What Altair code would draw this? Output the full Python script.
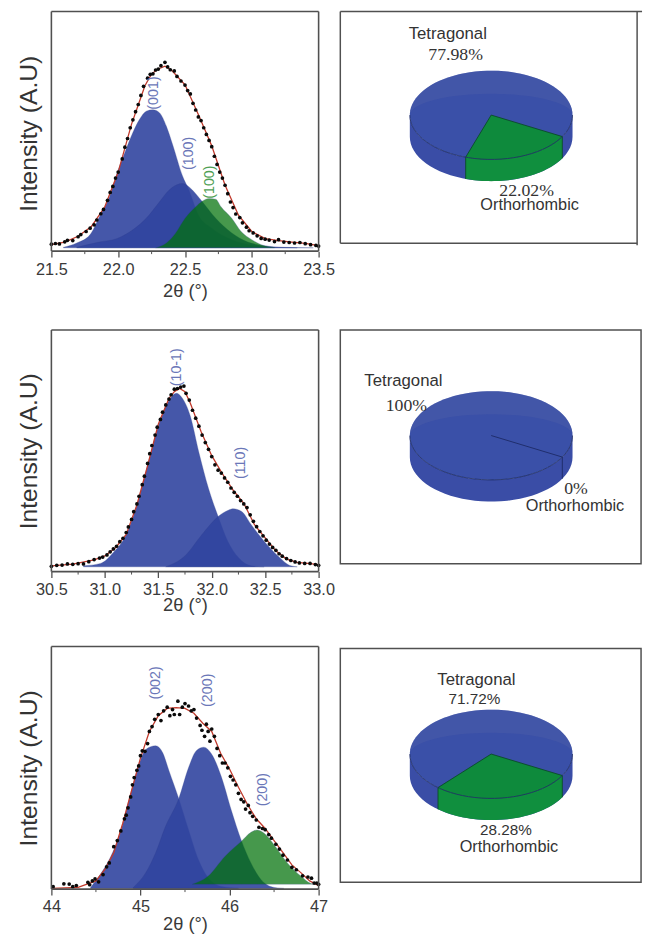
import altair as alt
import numpy as np
import pandas as pd

P1_TICKS = [21.5, 22.0, 22.5, 23.0, 23.5]
P1_MINOR = [21.75, 22.25, 22.75, 23.25]
P1_FIT_X = [21.5,21.6,21.7,21.8,21.9,22.0,22.1,22.15,22.2,22.25,22.3,22.35,22.4,22.5,22.6,22.7,22.8,22.9,23.0,23.1,23.2,23.3,23.4,23.5]
P1_FIT_V = [2.7,3.8,6.2,10.3,18.5,33,53,61,69,74,76,77.2,75.5,69.4,57,44,27.5,15,8.2,5.2,4.4,3.8,3.2,2.3]
P1_DOT_X = [21.50,21.53,21.56,21.60,21.62,21.66,21.70,21.72,21.76,21.79,21.82,21.84,21.87,21.89,21.92,21.94,21.96,21.98,22.00,22.03,22.05,22.07,22.09,22.11,22.13,22.15,22.17,22.19,22.22,22.24,22.26,22.28,22.30,22.32,22.35,22.37,22.39,22.42,22.44,22.47,22.50,22.52,22.54,22.56,22.58,22.60,22.62,22.64,22.66,22.68,22.70,22.72,22.74,22.76,22.78,22.80,22.82,22.84,22.86,22.88,22.91,22.93,22.96,22.98,23.01,23.04,23.07,23.10,23.13,23.17,23.20,23.24,23.28,23.32,23.36,23.40,23.44,23.48,23.50]
P1_DOT_V = [2.9,3.2,3.0,3.9,4.5,4.4,6.0,6.9,8.2,9.6,11.0,13.0,15.6,17.4,21.2,24.5,27.0,30.5,33.0,38.5,43.4,47.0,51.5,54.8,58.2,61.2,65.0,68.8,72.2,73.8,74.0,75.6,76.0,77.4,78.8,76.9,75.7,75.2,72.9,71.0,69.3,67.0,65.6,61.7,58.9,56.0,54.5,51.5,48.7,46.2,43.6,39.6,36.2,33.0,30.5,27.5,24.0,20.5,18.2,15.5,14.0,11.8,10.0,8.5,7.6,6.4,5.3,5.0,4.6,4.0,4.8,3.8,3.6,3.4,3.6,3.1,2.7,2.4,2.1]
P1_A_X = [21.59,21.69,21.79,21.86,21.94,21.99,22.05,22.11,22.16,22.21,22.26,22.31,22.36,22.41,22.48,22.53,22.60,22.70,22.85,23.0,23.17,23.34]
P1_A_V = [1.6,3.4,6.9,14.4,23.4,32.3,41.2,49.5,55,58.4,59,57.7,52.2,44,31.6,25.4,15.1,9.6,4.8,2.5,1.6,1.4]
P1_B_X = [21.69,21.86,21.99,22.11,22.21,22.31,22.38,22.44,22.48,22.53,22.58,22.63,22.73,22.85,22.97,23.09,23.24,23.46]
P1_B_V = [1.6,3.8,5.2,8.9,13.7,20.6,25.4,27.7,28.2,26.8,24,20.6,13.7,7.6,3.8,2.3,1.6,1.4]
P1_G_X = [22.28,22.36,22.43,22.50,22.58,22.63,22.68,22.73,22.77,22.85,22.92,23.0,23.07,23.17]
P1_G_V = [1.4,3.4,7.6,13.7,18.5,20.9,22,21.7,18.5,13.7,8.2,4.8,2.7,1.6]

P2_TICKS = [30.5, 31.0, 31.5, 32.0, 32.5, 33.0]
P2_MINOR = [30.75, 31.25, 31.75, 32.25, 32.75]
P2_FIT_X = [30.5,30.7,30.9,31.0,31.1,31.2,31.3,31.4,31.5,31.6,31.65,31.7,31.75,31.8,31.9,32.0,32.1,32.2,32.3,32.4,32.5,32.6,32.7,32.8,32.9,33.0]
P2_FIT_V = [2.4,3.1,4.9,6.5,9.9,15.4,27.6,43.9,61,71.7,74.5,75.8,74.5,69.7,58,48,40.5,33.7,28.3,19.4,14,8.6,5.2,3.8,3.4,2.9]
P2_DOT_X = [30.50,30.55,30.60,30.65,30.70,30.75,30.80,30.85,30.90,30.95,30.98,31.02,31.05,31.08,31.11,31.14,31.17,31.20,31.22,31.25,31.27,31.30,31.32,31.35,31.37,31.40,31.42,31.44,31.47,31.49,31.52,31.54,31.57,31.60,31.62,31.65,31.68,31.71,31.74,31.76,31.79,31.82,31.85,31.88,31.91,31.94,31.97,32.00,32.03,32.06,32.09,32.12,32.15,32.18,32.21,32.24,32.27,32.30,32.33,32.36,32.39,32.42,32.45,32.48,32.51,32.54,32.57,32.60,32.63,32.66,32.70,32.74,32.78,32.82,32.87,32.92,32.97,33.00]
P2_DOT_V = [2.2,2.6,2.7,3.2,3.0,3.3,3.2,4.1,5.0,5.6,6.0,6.9,8.2,9.4,10.5,12.4,13.8,16.2,18.5,21.6,24.8,28.0,31.2,36.0,39.5,44.8,48.8,52.2,56.5,59.8,63.0,66.0,69.0,71.4,73.2,75.5,75.8,76.4,76.8,73.8,71.0,66.8,63.5,60.2,56.5,53.4,50.6,47.6,44.2,42.0,40.8,38.8,37.0,34.6,32.8,31.2,29.4,28.0,26.5,23.5,20.8,18.6,16.6,14.8,13.0,11.4,10.0,8.8,7.4,6.4,5.4,4.6,4.0,3.6,3.4,3.4,2.9,2.6]
P2_A_X = [30.80,30.96,31.08,31.20,31.30,31.40,31.50,31.57,31.63,31.67,31.72,31.80,31.88,31.97,32.06,32.15,32.25,32.37,32.49]
P2_A_V = [2.4,3.4,7.9,15.4,27.6,43.9,60.2,68.3,72.7,73.8,72.1,64.3,49.3,34.4,22.8,12.6,5.8,2.4,2]
P2_B_X = [31.57,31.75,31.91,32.06,32.16,32.20,32.28,32.37,32.49,32.62,32.74,32.80]
P2_B_V = [2,6.5,15.4,22.8,25.5,26,24.9,19.4,12.6,6.5,2.4,2]

P3_TICKS = [44, 45, 46, 47]
P3_MINOR = [44.5, 45.5, 46.5]
P3_FIT_X = [44.0,44.3,44.5,44.6,44.7,44.8,44.9,45.0,45.1,45.2,45.3,45.4,45.5,45.6,45.7,45.8,45.9,46.0,46.1,46.2,46.3,46.4,46.5,46.6,46.7,46.8,46.9,47.0]
P3_FIT_V = [0.3,0.7,3.4,8.1,15,27,40.6,54,65,71.5,74.5,74.8,74.5,72.5,68.4,65,56,49.5,42,35,29,25,20,15,10,6.8,3.4,1.4]
P3_DOT_X = [44.02,44.14,44.20,44.24,44.28,44.41,44.43,44.46,44.49,44.53,44.58,44.62,44.65,44.70,44.74,44.78,44.82,44.84,44.86,44.89,44.91,44.93,44.96,44.98,45.00,45.02,45.05,45.08,45.10,45.13,45.16,45.20,45.23,45.26,45.30,45.33,45.36,45.38,45.42,45.44,45.47,45.50,45.54,45.57,45.60,45.63,45.67,45.69,45.72,45.74,45.76,45.78,45.80,45.83,45.86,45.89,45.92,45.95,45.98,46.01,46.04,46.07,46.10,46.13,46.16,46.18,46.21,46.23,46.26,46.30,46.33,46.37,46.40,46.44,46.47,46.52,46.56,46.60,46.65,46.70,46.75,46.82,46.88,46.92,46.95,46.98,47.0]
P3_DOT_V = [1.0,2.2,2.1,1.0,1.5,2.8,1.8,3.4,4.2,3.0,6.0,9.2,10.8,17.5,20,24,29,30.5,33.5,38,43,46,49,50.8,55,57,56.8,60,65,67,70,72,69.5,73.5,75,71.5,74,72,77.5,72,75,76.5,75.5,73.5,74,70.5,67.5,65.5,63,68,65,61,66,63,58,55,52,52,50,46.5,45,43,39.5,37,36,33,34.5,31.5,30,28.5,25.5,25,24.5,22.5,21,18.5,16.5,14,12,9,8,5.5,5,4.5,2.5,2.5,2]
P3_A_X = [44.44,44.55,44.66,44.77,44.88,44.99,45.06,45.17,45.25,45.32,45.43,45.54,45.65,45.76,45.91,46.1]
P3_A_V = [0.7,6.1,12.9,23,37.9,52.2,57.6,59.1,56.2,48.8,37.3,24.4,12.2,4.7,1.1,0.4]
P3_B_X = [44.92,45.06,45.17,45.28,45.43,45.54,45.63,45.71,45.80,45.91,46.02,46.13,46.24,46.35,46.50,46.61]
P3_B_V = [0.7,6.8,14.9,25.7,37.3,50.1,57.2,58.5,55.6,46.1,32.5,20.3,10.8,4.1,0.7,0.3]
P3_G_X = [45.58,45.76,45.95,46.13,46.24,46.31,46.39,46.5,46.65,46.8,46.91,46.94]
P3_G_V = [2,5.4,13.6,19.6,23.4,24.4,23,18.3,10.8,5.4,2.4,2]

P1_LABELS = ["(001)", "(100)", "(100)"]
P1_LABEL_X = [22.27, 22.53, 22.69]
P1_LABEL_V = [66, 40.8, 28.8]
P2_LABELS = ["(10-1)", "(110)"]
P2_LABEL_X = [31.68, 32.27]
P2_LABEL_V = [84.6, 45]
P3_LABELS = ["(002)", "(200)", "(200)"]
P3_LABEL_X = [45.17, 45.76, 46.38]
P3_LABEL_V = [85, 82, 41]

ORTHO_PCT = [22.02, 0.0, 28.28]
TETRA_PCT = [77.98, 100.0, 71.72]

SANS = "Liberation Sans"
SERIF = "Liberation Serif"
BLUE = "#3145A0"
GREEN = "#007108"
LAB_BLUE = "#6B77B8"
LAB_GREEN = "#4FA055"
AX = "#505050"


def peak(xs, vs, base, color, op):
    df = pd.DataFrame({"x": xs, "v": vs, "b": [base] * len(xs)})
    return alt.Chart(df).mark_area(interpolate="monotone", color=color, opacity=op,
                                   stroke="#2A3A88", strokeWidth=0.5, strokeOpacity=0.6).encode(
        x=alt.X("x:Q"), y=alt.Y("v:Q"), y2="b:Q")


def xrd(dom, ticks, minor, fx, fv, dx, dv, peaks, lx, lv, ltext, lcol, h, extra, title_pad, lab_pad):
    xscale = alt.Scale(domain=dom, nice=False, zero=False)
    yscale = alt.Scale(domain=[-100.0 * extra / h, 100], nice=False, zero=False)
    cell = h + extra
    base = alt.Chart(pd.DataFrame({"x": fx, "v": fv})).mark_line(color="#C0392B", strokeWidth=1.3).encode(
        x=alt.X("x:Q", scale=xscale, title="2θ (°)",
                axis=alt.Axis(values=ticks, format=".0f" if dom[0] == 44 else ".1f", grid=False, tickSize=6, tickWidth=1.3,
                              tickColor=AX, domain=False, labelFont=SANS, labelFontSize=16.5, labelColor="#3a3a3a",
                              labelPadding=lab_pad, labelOverlap=False, labelFlush=False, offset=-extra,
                              titleFont=SANS, titleFontSize=18.5, titleFontWeight="normal", titleColor="#3a3a3a",
                              titlePadding=title_pad)),
        y=alt.Y("v:Q", scale=yscale, title="Intensity (A.U)",
                axis=alt.Axis(labels=False, ticks=False, domain=False, grid=False, titleFont=SANS,
                              titleFontSize=25, titleFontWeight="normal", titleColor="#333333", titlePadding=10)),
    )
    dots = alt.Chart(pd.DataFrame({"x": dx, "v": dv})).mark_circle(color="#0a0a0a", size=14, opacity=1).encode(x="x:Q", y="v:Q")
    labels = alt.Chart(pd.DataFrame({"x": lx, "v": lv, "t": ltext, "c": lcol})).mark_text(
        angle=270, font=SANS, fontSize=14.5, align="center", baseline="middle").encode(
        x="x:Q", y="v:Q", text="t:N", color=alt.Color("c:N", scale=None))
    mt = alt.Chart(pd.DataFrame({"x": minor})).mark_rule(color=AX, strokeWidth=1, clip=False).encode(
        x="x:Q", y=alt.value(h), y2=alt.value(h + 3))
    fr_top = alt.Chart(pd.DataFrame({"x": [dom[0]], "x2": [dom[1]], "v": [100.0]})).mark_rule(color=AX, strokeWidth=1.6, clip=False).encode(
        x="x:Q", x2="x2:Q", y="v:Q")
    fr_bot = alt.Chart(pd.DataFrame({"x": [dom[0]], "x2": [dom[1]], "v": [0.0]})).mark_rule(color=AX, strokeWidth=1.6, clip=False).encode(
        x="x:Q", x2="x2:Q", y="v:Q")
    fr_l = alt.Chart(pd.DataFrame({"x": [dom[0]], "v": [0.0], "v2": [100.0]})).mark_rule(color=AX, strokeWidth=1.6, clip=False).encode(
        x="x:Q", y="v:Q", y2="v2:Q")
    fr_r = alt.Chart(pd.DataFrame({"x": [dom[1]], "v": [0.0], "v2": [100.0]})).mark_rule(color=AX, strokeWidth=1.6, clip=False).encode(
        x="x:Q", y="v:Q", y2="v2:Q")
    return alt.layer(*peaks, base, dots, labels, mt, fr_top, fr_bot, fr_l, fr_r).properties(
        width=271, height=cell, view=alt.ViewConfig(stroke=None))


CX, RX, RY, DEPTH, START = 153, 82.5, 45, 22, 29.0


def arc(t0, t1, cx, cy, ry=RY, n=40):
    t = np.radians(np.linspace(t0, t1, n))
    return list(cx + RX * np.cos(t)), list(cy + ry * np.sin(t))


def xy(W, H):
    return dict(
        x=alt.X("x:Q", scale=alt.Scale(domain=[0, W], nice=False, zero=False), axis=None),
        y=alt.Y("y:Q", scale=alt.Scale(domain=[H, 0], nice=False, zero=False), axis=None))


def poly(xs, ys, fill, W, H, stroke=None, sw=0.0, op=1.0):
    df = pd.DataFrame({"x": xs, "y": ys, "i": range(len(xs))})
    kw = dict(fill=fill, fillOpacity=op, strokeWidth=sw, stroke=stroke if stroke else "transparent", clip=False)
    return alt.Chart(df).mark_line(**kw).encode(order="i:Q", **xy(W, H))


def path(xs, ys, W, H, stroke="#1C2A66", sw=0.9):
    df = pd.DataFrame({"x": xs, "y": ys, "i": range(len(xs))})
    return alt.Chart(df).mark_line(stroke=stroke, strokeWidth=sw, clip=False).encode(order="i:Q", **xy(W, H))


def txt(t, x, y, font, size, W, H):
    df = pd.DataFrame({"x": [x], "y": [y], "t": [t]})
    return alt.Chart(df).mark_text(font=font, fontSize=size, color="#333333", align="center", baseline="middle").encode(
        text="t:N", **xy(W, H))


def pie(pct, cy, W, H):
    end = START + pct * 3.6
    L = []
    ax, ay = arc(0, 180, CX, cy)
    bx, by = arc(180, 0, CX, cy + DEPTH)
    L.append(poly(ax + bx, ay + by, "#3A4DA6", W, H))
    tx, ty = arc(0, 360, CX, cy, n=90)
    L.append(poly(tx, ty, "#3A50A8", W, H))
    ux, uy = arc(180, 360, CX, cy)
    lx, ly = arc(360, 180, CX, cy, ry=RY * 0.48)
    L.append(poly(ux + lx, uy + ly, "#5060A8", W, H, op=0.4))
    if pct > 0:
        sx, sy = arc(START, end, CX, cy)
        rx_, ry_ = arc(end, START, CX, cy + DEPTH)
        L.append(poly(sx + rx_, sy + ry_, "#108F3E", W, H))
        L.append(poly([CX] + sx, [cy] + sy, "#0E8A3C", W, H))
        L.append(path([sx[-1], CX, sx[0]], [sy[-1], cy, sy[0]], W, H, stroke="#0B4A2A"))
        L.append(path([sx[0], sx[0]], [sy[0], sy[0] + DEPTH], W, H, stroke="#0B4A2A"))
        L.append(path([sx[-1], sx[-1]], [sy[-1], sy[-1] + DEPTH], W, H, stroke="#0B4A2A"))
    else:
        sx, sy = arc(START, START + 1, CX, cy, n=2)
        L.append(path([CX, sx[0]], [cy, sy[0]], W, H))
        L.append(path([sx[0], sx[0]], [sy[0], sy[0] + DEPTH], W, H))
    fx, fy = arc(0, 180, CX, cy)
    L.append(path(fx, fy, W, H, stroke="#1C2A5E", sw=0.8))
    return L


W2 = 305
H1, H2, H3 = 235, 237, 237
CELL1 = H1 + 2  # keeps the second row's position

fr = []
for xs, ys in [([0, 306], [0, 0]), ([0, 0], [0, H1]), ([0, 301], [H1, H1]), ([301, 301], [0, H1 + 2])]:
    fr.append(path(xs, ys, W2, CELL1, stroke=AX, sw=1.5))

pie1 = alt.layer(*fr, *pie(ORTHO_PCT[0], 105, W2, CELL1),
                 txt("Tetragonal", 109, 23, SANS, 17, W2, CELL1),
                 txt(f"{TETRA_PCT[0]:.2f}%", 117, 44, SERIF, 18, W2, CELL1),
                 txt(f"{ORTHO_PCT[0]:.2f}%", 189, 182, SERIF, 18, W2, CELL1),
                 txt("Orthorhombic", 192, 196, SANS, 16.5, W2, CELL1)).properties(
    width=W2, height=CELL1, view=alt.ViewConfig(stroke=None))
pie2 = alt.layer(*pie(ORTHO_PCT[1], 107, W2, H2),
                 txt("Tetragonal", 64, 52, SANS, 17, W2, H2),
                 txt("100%", 67, 77, SERIF, 18, W2, H2),
                 txt("0%", 239, 161, SERIF, 18, W2, H2),
                 txt("Orthorhombic", 238, 179, SANS, 16.5, W2, H2)).properties(
    width=W2, height=H2, view=alt.ViewConfig(stroke=AX, strokeWidth=1.5))
pie3 = alt.layer(*pie(ORTHO_PCT[2], 107, W2, H3),
                 txt("Tetragonal", 138, 32, SANS, 17, W2, H3),
                 txt(f"{TETRA_PCT[2]:.2f}%", 136, 51, SANS, 15.5, W2, H3),
                 txt(f"{ORTHO_PCT[2]:.2f}%", 168, 184, SANS, 15.5, W2, H3),
                 txt("Orthorhombic", 171, 201, SANS, 16.5, W2, H3)).properties(
    width=W2, height=H3, view=alt.ViewConfig(stroke=AX, strokeWidth=1.5))

a1 = xrd([21.5, 23.5], P1_TICKS, P1_MINOR, P1_FIT_X, P1_FIT_V, P1_DOT_X, P1_DOT_V,
         [peak(P1_A_X, P1_A_V, 1.4, BLUE, 0.9), peak(P1_B_X, P1_B_V, 1.4, BLUE, 0.9), peak(P1_G_X, P1_G_V, 1.4, GREEN, 0.72)],
         P1_LABEL_X, P1_LABEL_V, P1_LABELS, [LAB_BLUE, LAB_BLUE, LAB_GREEN], 243, 4, 4, 5)
a2 = xrd([30.5, 33.0], P2_TICKS, P2_MINOR, P2_FIT_X, P2_FIT_V, P2_DOT_X, P2_DOT_V,
         [peak(P2_A_X, P2_A_V, 2, BLUE, 0.9), peak(P2_B_X, P2_B_V, 2, BLUE, 0.9)],
         P2_LABEL_X, P2_LABEL_V, P2_LABELS, [LAB_BLUE, LAB_BLUE], 245, 0, -2, 4)
a3 = xrd([44, 47], P3_TICKS, P3_MINOR, P3_FIT_X, P3_FIT_V, P3_DOT_X, P3_DOT_V,
         [peak(P3_A_X, P3_A_V, 0.3, BLUE, 0.9), peak(P3_B_X, P3_B_V, 0.3, BLUE, 0.9), peak(P3_G_X, P3_G_V, 2, GREEN, 0.72)],
         P3_LABEL_X, P3_LABEL_V, P3_LABELS, [LAB_BLUE, LAB_BLUE, LAB_BLUE], 246, 0, -1, 4)

left = alt.vconcat(a1, a2, a3, spacing=76, bounds="flush").resolve_scale(x="independent", y="independent")
right = alt.vconcat(pie1, pie2, pie3, spacing=86, bounds="flush").resolve_scale(x="independent", y="independent")
chart = alt.hconcat(left, right, spacing=293, bounds="flush").properties(
    padding={"left": 9, "top": -6, "right": 0, "bottom": 0}, background="white")

chart.save("out.html", embed_options={"renderer": "svg", "actions": False})
